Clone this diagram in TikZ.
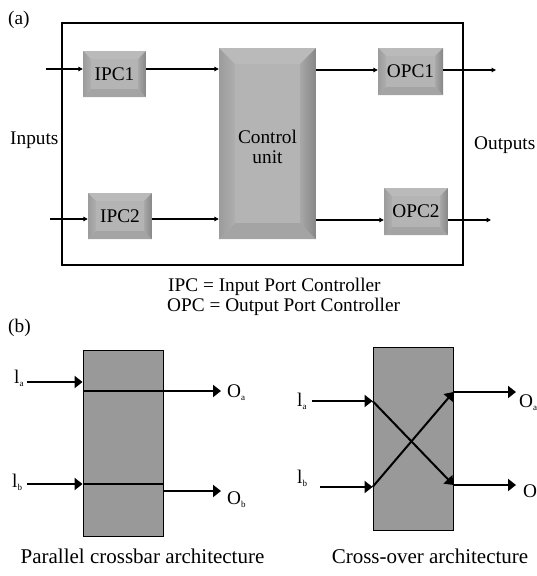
\documentclass[tikz,border=0pt]{standalone}
\usepackage{fontspec}
\setmainfont{Liberation Serif}
\usetikzlibrary{arrows.meta,calc}
\definecolor{bmid}{HTML}{B4B4B4}
\definecolor{btop}{HTML}{BABABA}
\definecolor{bbot}{HTML}{A4A4A4}
\definecolor{blA}{HTML}{9C9C9C}
\definecolor{blB}{HTML}{AEAEAE}
\definecolor{brA}{HTML}{A8A8A8}
\definecolor{brB}{HTML}{868686}
\definecolor{bgray}{HTML}{999999}
\newcommand\sub[1]{\raisebox{-3.5pt}{\fontsize{9}{9}\selectfont #1}}
\begin{document}
\begin{tikzpicture}[x=1pt,y=-1pt,
  txt/.style={inner sep=0pt, font=\fontsize{19.3}{20}\selectfont},
  captxt/.style={inner sep=0pt, font=\fontsize{21}{22}\selectfont},
  bev/.style={inner sep=0pt, fill=bmid, align=center, font=\fontsize{19.3}{20}\selectfont,
    path picture={
      \path (path picture bounding box.north west) coordinate (pnw)
            (path picture bounding box.north east) coordinate (pne)
            (path picture bounding box.south west) coordinate (psw)
            (path picture bounding box.south east) coordinate (pse);
      \fill[btop] (pnw) -- (pne) -- ([xshift=-#1pt,yshift=-#1pt]pne) -- ([xshift=#1pt,yshift=-#1pt]pnw) -- cycle;
      \fill[bbot] (psw) -- (pse) -- ([xshift=-#1pt,yshift=#1pt]pse) -- ([xshift=#1pt,yshift=#1pt]psw) -- cycle;
      \shade[left color=blA,right color=blB] (pnw) -- ([xshift=#1pt,yshift=-#1pt]pnw) -- ([xshift=#1pt,yshift=#1pt]psw) -- (psw) -- cycle;
      \shade[left color=brA,right color=brB] (pne) -- ([xshift=-#1pt,yshift=-#1pt]pne) -- ([xshift=-#1pt,yshift=#1pt]pse) -- (pse) -- cycle;
    }},
  aa/.style={line width=1.6pt, -{Triangle[length=4.5pt,width=4.5pt]}},
  ab/.style={line width=2pt, -{Triangle[length=8pt,width=12pt]}},
  ln/.style={line width=2pt},
  crossbox/.style={draw=black, line width=0.9pt, fill=bgray, inner sep=0pt}
]
\useasboundingbox (0,0) rectangle (537,576);

% ---------- (a) ----------
\node[txt, anchor=base west] (la) at (8,24) {(a)};
\node[draw=black, line width=2pt, minimum width=401pt, minimum height=242pt, inner sep=0pt] (frame) at (262.5,144) {};

\node[bev=8, minimum width=63pt, minimum height=46pt] (ipc1) at (114.5,74) {IPC1};
\node[bev=8, minimum width=64pt, minimum height=46pt] (ipc2) at (120,216) {IPC2};
\node[bev=16, minimum width=97pt, minimum height=191pt] (cu) at (267.5,143.5) {};
\node[txt, align=center] (cutext) at ([yshift=-3pt]cu.center) {Control\\unit};
\node[bev=8, minimum width=65pt, minimum height=47pt] (opc1) at (410.5,71.5) {OPC1};
\node[bev=8, minimum width=64pt, minimum height=47pt] (opc2) at (416,211.5) {OPC2};

\coordinate (i1) at (46,69);
\coordinate (i2) at (50,219);
\coordinate (o1) at (496,70);
\coordinate (o2) at (491,220);
\draw[aa] (i1) -- (i1 -| ipc1.west);
\draw[aa] (ipc1.east |- i1) -- (cu.west |- i1);
\draw[aa] (i2) -- (i2 -| ipc2.west);
\draw[aa] (ipc2.east |- i2) -- (cu.west |- i2);
\draw[aa] (cu.east |- o1) -- (opc1.west |- o1);
\draw[aa] (opc1.east |- o1) -- (o1);
\draw[aa] (cu.east |- o2) -- (opc2.west |- o2);
\draw[aa] (opc2.east |- o2) -- (o2);

\node[txt, anchor=base west] (inputs) at (10,144) {Inputs};
\node[txt, anchor=base west] (outputs) at (474,149) {Outputs};
\node[txt, anchor=base west] (leg1) at (168,291) {IPC = Input Port Controller};
\node[txt, anchor=base west] (leg2) at (167,311) {OPC = Output Port Controller};

% ---------- (b) ----------
\node[txt, anchor=base west] (lb) at (8,332) {(b)};

\node[crossbox, minimum width=80pt, minimum height=186pt] (pb) at (123,443) {};
\node[crossbox, minimum width=80pt, minimum height=183pt] (xb) at (413,438.5) {};

% parallel crossbar
\coordinate (pia) at (27,382);
\coordinate (poa) at (221,391);
\coordinate (pib) at (27,484);
\coordinate (pob) at (221,491);
\draw[ab] (pia) -- (pia -| pb.west);
\draw[ab] (pb.west |- poa) -- (poa);
\draw[ab] (pib) -- (pib -| pb.west);
\draw[ln] (pb.west |- pib) -- (pb.east |- pib);
\draw[ab] (pb.east |- pob) -- (pob);

% cross-over
\coordinate (xia) at (312,401);
\coordinate (xib) at (320,487);
\coordinate (xoa) at (516,392);
\coordinate (xob) at (516,485);
\draw[ab] (xia) -- (xia -| xb.west);
\draw[ab] (xib) -- (xib -| xb.west);
\draw[ab] (xb.west |- xia) -- (xb.east |- xob);
\draw[ab] (xb.west |- xib) -- (xb.east |- xoa);
\draw[ab] (xb.east |- xoa) -- (xoa);
\draw[ab] (xb.east |- xob) -- (xob);

% labels
\node[txt, anchor=base west] (tla) at (14,383) {l\sub{a}};
\node[txt, anchor=base west] (tlb) at (12,487) {l\sub{b}};
\node[txt, anchor=base west] (toa) at (227,397) {O\sub{a}};
\node[txt, anchor=base west] (tob) at (227,504) {O\sub{b}};
\node[txt, anchor=base west] (xla) at (297,406) {l\sub{a}};
\node[txt, anchor=base west] (xlb) at (297,483) {l\sub{b}};
\node[txt, anchor=base west] (xoal) at (519,407) {O\sub{a}};
\node[txt, anchor=base west] (xobl) at (523,497) {O};

\node[captxt, anchor=base] (c1) at (142.5,563) {Parallel crossbar architecture};
\node[captxt, anchor=base] (c2) at (430,563) {Cross-over architecture};
\end{tikzpicture}
\end{document}
